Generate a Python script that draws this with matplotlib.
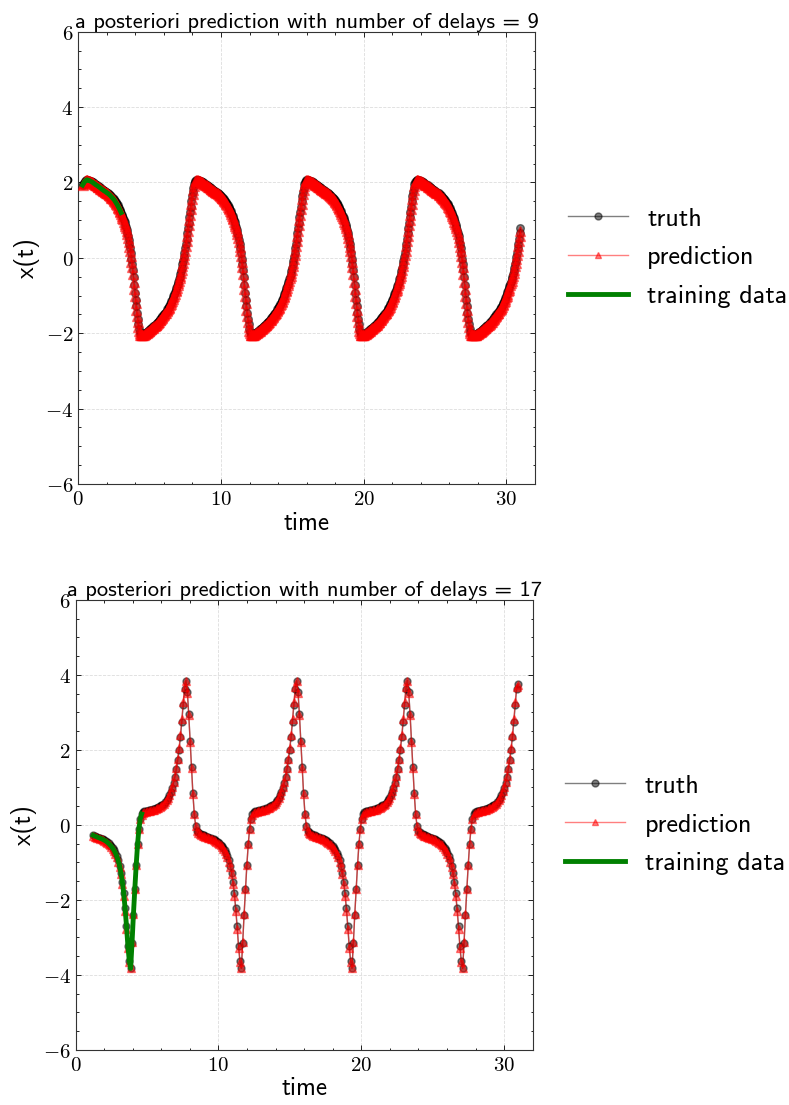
import numpy as np
import matplotlib
matplotlib.use("Agg")
import matplotlib.pyplot as plt
from matplotlib.ticker import FuncFormatter, MultipleLocator
from matplotlib.lines import Line2D

plt.rcParams['mathtext.fontset'] = 'cm'
SANS = 'cmss10'

# ---------------- data: top panel (number of delays = 9) ----------------
top_title = "a posteriori prediction with number of delays = 9"
top_t0, top_dt = 0.3005, 0.04825
top_truth = [
    1.93, 1.96, 1.99, 2.02, 2.04, 2.06,
    # cycle 1 (decline)
    2.07, 2.07, 2.06, 2.05, 2.05, 2.04, 2.03, 2.02, 2.01, 2.00,
    1.98, 1.97, 1.96, 1.94, 1.93, 1.92, 1.91, 1.89, 1.88, 1.87,
    1.85, 1.84, 1.82, 1.81, 1.80, 1.78, 1.77, 1.76, 1.75, 1.73,
    1.72, 1.71, 1.69, 1.68, 1.66, 1.64, 1.62, 1.60, 1.58, 1.56,
    1.54, 1.51, 1.48, 1.45, 1.42, 1.39, 1.35, 1.32, 1.28, 1.24,
    1.20, 1.15, 1.10, 1.05, 1.00, 0.94, 0.88, 0.82, 0.75, 0.67,
    0.58, 0.48, 0.37, 0.25, 0.12, -0.02, -0.16, -0.33, -0.52, -0.72,
    -0.92, -1.11, -1.29, -1.46, -1.62, -1.76, -1.88, -1.97, -2.02, -2.04,
    # rise
    -2.06, -2.05, -2.04, -2.03, -2.02, -2.00, -1.99, -1.98, -1.96, -1.95,
    -1.93, -1.92, -1.90, -1.89, -1.87, -1.86, -1.84, -1.82, -1.80, -1.79,
    -1.77, -1.75, -1.73, -1.71, -1.69, -1.67, -1.64, -1.62, -1.60, -1.58,
    -1.55, -1.53, -1.50, -1.48, -1.45, -1.43, -1.40, -1.37, -1.34, -1.31,
    -1.27, -1.23, -1.19, -1.15, -1.11, -1.06, -1.02, -0.97, -0.91, -0.86,
    -0.81, -0.75, -0.69, -0.63, -0.57, -0.50, -0.42, -0.34, -0.26, -0.17,
    -0.08, 0.03, 0.13, 0.25, 0.38, 0.51, 0.65, 0.79, 0.93, 1.08,
    1.22, 1.36, 1.50, 1.63, 1.75, 1.86, 1.95, 2.01, 2.05, 2.07,
    # cycle 2 (decline)
    2.07, 2.07, 2.06, 2.05, 2.05, 2.04, 2.03, 2.02, 2.01, 2.00,
    1.98, 1.97, 1.96, 1.94, 1.93, 1.92, 1.91, 1.89, 1.88, 1.87,
    1.85, 1.84, 1.82, 1.81, 1.80, 1.78, 1.77, 1.76, 1.75, 1.73,
    1.72, 1.71, 1.69, 1.68, 1.66, 1.64, 1.62, 1.60, 1.58, 1.56,
    1.54, 1.51, 1.48, 1.45, 1.42, 1.39, 1.35, 1.32, 1.28, 1.24,
    1.20, 1.15, 1.10, 1.05, 1.00, 0.94, 0.88, 0.82, 0.75, 0.67,
    0.58, 0.48, 0.37, 0.25, 0.12, -0.02, -0.16, -0.33, -0.52, -0.72,
    -0.92, -1.11, -1.29, -1.46, -1.62, -1.76, -1.88, -1.97, -2.02, -2.04,
    # rise
    -2.06, -2.05, -2.04, -2.03, -2.02, -2.00, -1.99, -1.98, -1.96, -1.95,
    -1.93, -1.92, -1.90, -1.89, -1.87, -1.86, -1.84, -1.82, -1.80, -1.79,
    -1.77, -1.75, -1.73, -1.71, -1.69, -1.67, -1.64, -1.62, -1.60, -1.58,
    -1.55, -1.53, -1.50, -1.48, -1.45, -1.43, -1.40, -1.37, -1.34, -1.31,
    -1.27, -1.23, -1.19, -1.15, -1.11, -1.06, -1.02, -0.97, -0.91, -0.86,
    -0.81, -0.75, -0.69, -0.63, -0.57, -0.50, -0.42, -0.34, -0.26, -0.17,
    -0.08, 0.03, 0.13, 0.25, 0.38, 0.51, 0.65, 0.79, 0.93, 1.08,
    1.22, 1.36, 1.50, 1.63, 1.75, 1.86, 1.95, 2.01, 2.05, 2.07,
    # cycle 3 (decline)
    2.07, 2.07, 2.06, 2.05, 2.05, 2.04, 2.03, 2.02, 2.01, 2.00,
    1.98, 1.97, 1.96, 1.94, 1.93, 1.92, 1.91, 1.89, 1.88, 1.87,
    1.85, 1.84, 1.82, 1.81, 1.80, 1.78, 1.77, 1.76, 1.75, 1.73,
    1.72, 1.71, 1.69, 1.68, 1.66, 1.64, 1.62, 1.60, 1.58, 1.56,
    1.54, 1.51, 1.48, 1.45, 1.42, 1.39, 1.35, 1.32, 1.28, 1.24,
    1.20, 1.15, 1.10, 1.05, 1.00, 0.94, 0.88, 0.82, 0.75, 0.67,
    0.58, 0.48, 0.37, 0.25, 0.12, -0.02, -0.16, -0.33, -0.52, -0.72,
    -0.92, -1.11, -1.29, -1.46, -1.62, -1.76, -1.88, -1.97, -2.02, -2.04,
    # rise
    -2.06, -2.05, -2.04, -2.03, -2.02, -2.00, -1.99, -1.98, -1.96, -1.95,
    -1.93, -1.92, -1.90, -1.89, -1.87, -1.86, -1.84, -1.82, -1.80, -1.79,
    -1.77, -1.75, -1.73, -1.71, -1.69, -1.67, -1.64, -1.62, -1.60, -1.58,
    -1.55, -1.53, -1.50, -1.48, -1.45, -1.43, -1.40, -1.37, -1.34, -1.31,
    -1.27, -1.23, -1.19, -1.15, -1.11, -1.06, -1.02, -0.97, -0.91, -0.86,
    -0.81, -0.75, -0.69, -0.63, -0.57, -0.50, -0.42, -0.34, -0.26, -0.17,
    -0.08, 0.03, 0.13, 0.25, 0.38, 0.51, 0.65, 0.79, 0.93, 1.08,
    1.22, 1.36, 1.50, 1.63, 1.75, 1.86, 1.95, 2.01, 2.05, 2.07,
    # cycle 4 (decline)
    2.07, 2.07, 2.06, 2.05, 2.05, 2.04, 2.03, 2.02, 2.01, 2.00,
    1.98, 1.97, 1.96, 1.94, 1.93, 1.92, 1.91, 1.89, 1.88, 1.87,
    1.85, 1.84, 1.82, 1.81, 1.80, 1.78, 1.77, 1.76, 1.75, 1.73,
    1.72, 1.71, 1.69, 1.68, 1.66, 1.64, 1.62, 1.60, 1.58, 1.56,
    1.54, 1.51, 1.48, 1.45, 1.42, 1.39, 1.35, 1.32, 1.28, 1.24,
    1.20, 1.15, 1.10, 1.05, 1.00, 0.94, 0.88, 0.82, 0.75, 0.67,
    0.58, 0.48, 0.37, 0.25, 0.12, -0.02, -0.16, -0.33, -0.52, -0.72,
    -0.92, -1.11, -1.29, -1.46, -1.62, -1.76, -1.88, -1.97, -2.02, -2.04,
    # final rise
    -2.05, -2.06, -2.06,
    -2.06, -2.05, -2.04, -2.03, -2.02, -2.00, -1.99, -1.98, -1.96, -1.95,
    -1.93, -1.92, -1.90, -1.89, -1.87, -1.86, -1.84, -1.82, -1.80, -1.79,
    -1.77, -1.75, -1.73, -1.71, -1.69, -1.67, -1.64, -1.62, -1.60, -1.58,
    -1.55, -1.53, -1.50, -1.48, -1.45, -1.43, -1.40, -1.37, -1.34, -1.31,
    -1.27, -1.23, -1.19, -1.15, -1.11, -1.06, -1.02, -0.97, -0.91, -0.86,
    -0.81, -0.75, -0.69, -0.63, -0.57, -0.50, -0.42, -0.34, -0.26, -0.17,
    -0.08, 0.03, 0.13, 0.25, 0.38, 0.51, 0.65, 0.79,
]
top_pred = [
    1.93, 1.96, 1.99, 2.02, 2.04, 2.06,
    # cycle 1 (decline)
    2.06, 2.06, 2.05, 2.04, 2.04, 2.03, 2.02, 2.01, 2.00, 1.98,
    1.97, 1.96, 1.94, 1.93, 1.92, 1.91, 1.89, 1.88, 1.87, 1.85,
    1.84, 1.82, 1.81, 1.80, 1.78, 1.77, 1.76, 1.75, 1.73, 1.72,
    1.71, 1.69, 1.68, 1.66, 1.64, 1.62, 1.60, 1.58, 1.56, 1.54,
    1.52, 1.49, 1.46, 1.43, 1.40, 1.36, 1.33, 1.29, 1.25, 1.21,
    1.17, 1.12, 1.07, 1.02, 0.96, 0.90, 0.84, 0.78, 0.70, 0.62,
    0.52, 0.42, 0.30, 0.18, 0.04, -0.10, -0.25, -0.43, -0.63, -0.83,
    -1.02, -1.21, -1.38, -1.55, -1.70, -1.83, -1.93, -2.00, -2.04, -2.06,
    # rise
    -2.06, -2.06, -2.05, -2.04, -2.03, -2.02, -2.00, -1.99, -1.98, -1.96,
    -1.95, -1.93, -1.92, -1.90, -1.89, -1.87, -1.86, -1.84, -1.82, -1.80,
    -1.79, -1.77, -1.75, -1.73, -1.71, -1.69, -1.66, -1.64, -1.62, -1.60,
    -1.57, -1.55, -1.52, -1.50, -1.47, -1.45, -1.42, -1.39, -1.36, -1.33,
    -1.30, -1.26, -1.22, -1.18, -1.14, -1.09, -1.05, -1.00, -0.95, -0.89,
    -0.84, -0.79, -0.73, -0.67, -0.61, -0.54, -0.47, -0.39, -0.31, -0.22,
    -0.13, -0.03, 0.08, 0.19, 0.31, 0.44, 0.58, 0.72, 0.86, 1.00,
    1.15, 1.29, 1.43, 1.56, 1.69, 1.80, 1.90, 1.98, 2.03, 2.06,
    # cycle 2 (decline)
    2.06, 2.06, 2.05, 2.04, 2.04, 2.03, 2.02, 2.01, 2.00, 1.98,
    1.97, 1.96, 1.94, 1.93, 1.92, 1.91, 1.89, 1.88, 1.87, 1.85,
    1.84, 1.82, 1.81, 1.80, 1.78, 1.77, 1.76, 1.75, 1.73, 1.72,
    1.71, 1.69, 1.68, 1.66, 1.64, 1.62, 1.60, 1.58, 1.56, 1.54,
    1.52, 1.49, 1.46, 1.43, 1.40, 1.36, 1.33, 1.29, 1.25, 1.21,
    1.17, 1.12, 1.07, 1.02, 0.96, 0.90, 0.84, 0.78, 0.70, 0.62,
    0.52, 0.42, 0.30, 0.18, 0.04, -0.10, -0.25, -0.43, -0.63, -0.83,
    -1.02, -1.21, -1.38, -1.55, -1.70, -1.83, -1.93, -2.00, -2.04, -2.06,
    # rise
    -2.06, -2.06, -2.05, -2.04, -2.03, -2.02, -2.00, -1.99, -1.98, -1.96,
    -1.95, -1.93, -1.92, -1.90, -1.89, -1.87, -1.86, -1.84, -1.82, -1.80,
    -1.79, -1.77, -1.75, -1.73, -1.71, -1.69, -1.66, -1.64, -1.62, -1.60,
    -1.57, -1.55, -1.52, -1.50, -1.47, -1.45, -1.42, -1.39, -1.36, -1.33,
    -1.30, -1.26, -1.22, -1.18, -1.14, -1.09, -1.05, -1.00, -0.95, -0.89,
    -0.84, -0.79, -0.73, -0.67, -0.61, -0.54, -0.47, -0.39, -0.31, -0.22,
    -0.13, -0.03, 0.08, 0.19, 0.31, 0.44, 0.58, 0.72, 0.86, 1.00,
    1.15, 1.29, 1.43, 1.56, 1.69, 1.80, 1.90, 1.98, 2.03, 2.06,
    # cycle 3 (decline)
    2.06, 2.06, 2.05, 2.04, 2.04, 2.03, 2.02, 2.01, 2.00, 1.98,
    1.97, 1.96, 1.94, 1.93, 1.92, 1.91, 1.89, 1.88, 1.87, 1.85,
    1.84, 1.82, 1.81, 1.80, 1.78, 1.77, 1.76, 1.75, 1.73, 1.72,
    1.71, 1.69, 1.68, 1.66, 1.64, 1.62, 1.60, 1.58, 1.56, 1.54,
    1.52, 1.49, 1.46, 1.43, 1.40, 1.36, 1.33, 1.29, 1.25, 1.21,
    1.17, 1.12, 1.07, 1.02, 0.96, 0.90, 0.84, 0.78, 0.70, 0.62,
    0.52, 0.42, 0.30, 0.18, 0.04, -0.10, -0.25, -0.43, -0.63, -0.83,
    -1.02, -1.21, -1.38, -1.55, -1.70, -1.83, -1.93, -2.00, -2.04, -2.06,
    # rise
    -2.06, -2.06, -2.05, -2.04, -2.03, -2.02, -2.00, -1.99, -1.98, -1.96,
    -1.95, -1.93, -1.92, -1.90, -1.89, -1.87, -1.86, -1.84, -1.82, -1.80,
    -1.79, -1.77, -1.75, -1.73, -1.71, -1.69, -1.66, -1.64, -1.62, -1.60,
    -1.57, -1.55, -1.52, -1.50, -1.47, -1.45, -1.42, -1.39, -1.36, -1.33,
    -1.30, -1.26, -1.22, -1.18, -1.14, -1.09, -1.05, -1.00, -0.95, -0.89,
    -0.84, -0.79, -0.73, -0.67, -0.61, -0.54, -0.47, -0.39, -0.31, -0.22,
    -0.13, -0.03, 0.08, 0.19, 0.31, 0.44, 0.58, 0.72, 0.86, 1.00,
    1.15, 1.29, 1.43, 1.56, 1.69, 1.80, 1.90, 1.98, 2.03, 2.06,
    # cycle 4 (decline)
    2.06, 2.06, 2.05, 2.04, 2.04, 2.03, 2.02, 2.01, 2.00, 1.98,
    1.97, 1.96, 1.94, 1.93, 1.92, 1.91, 1.89, 1.88, 1.87, 1.85,
    1.84, 1.82, 1.81, 1.80, 1.78, 1.77, 1.76, 1.75, 1.73, 1.72,
    1.71, 1.69, 1.68, 1.66, 1.64, 1.62, 1.60, 1.58, 1.56, 1.54,
    1.52, 1.49, 1.46, 1.43, 1.40, 1.36, 1.33, 1.29, 1.25, 1.21,
    1.17, 1.12, 1.07, 1.02, 0.96, 0.90, 0.84, 0.78, 0.70, 0.62,
    0.52, 0.42, 0.30, 0.18, 0.04, -0.10, -0.25, -0.43, -0.63, -0.83,
    -1.02, -1.21, -1.38, -1.55, -1.70, -1.83, -1.93, -2.00, -2.04, -2.06,
    # final rise
    -2.05, -2.06, -2.06,
    -2.06, -2.06, -2.05, -2.04, -2.03, -2.02, -2.00, -1.99, -1.98, -1.96,
    -1.95, -1.93, -1.92, -1.90, -1.89, -1.87, -1.86, -1.84, -1.82, -1.80,
    -1.79, -1.77, -1.75, -1.73, -1.71, -1.69, -1.66, -1.64, -1.62, -1.60,
    -1.57, -1.55, -1.52, -1.50, -1.47, -1.45, -1.42, -1.39, -1.36, -1.33,
    -1.30, -1.26, -1.22, -1.18, -1.14, -1.09, -1.05, -1.00, -0.95, -0.89,
    -0.84, -0.79, -0.73, -0.67, -0.61, -0.54, -0.47, -0.39, -0.31, -0.22,
    -0.13, -0.03, 0.08, 0.19, 0.31, 0.44, 0.58, 0.72,
]
top_train_len = 57   # training window = first samples of the truth

# ---------------- data: bottom panel (number of delays = 17) ----------------
bot_title = "a posteriori prediction with number of delays = 17"
bot_t0, bot_dt = 1.234, 0.096875
bot_truth = [
    -0.28, -0.30, -0.31, -0.33, -0.34, -0.36, -0.37, -0.39, -0.41, -0.43, -0.46, -0.49, -0.53, -0.57, -0.62, -0.68, -0.75, -0.84, -0.95, -1.09, -1.28, -1.52, -1.83, -2.23, -2.70, -3.22, -3.62,
    -3.83, -3.15, -2.40, -1.72, -1.08, -0.52, -0.10, 0.17, 0.29, 0.34, 0.36, 0.37, 0.38, 0.39, 0.40, 0.41, 0.42, 0.43, 0.45, 0.46, 0.48, 0.50, 0.52, 0.54, 0.57, 0.61, 0.66, 0.72, 0.79, 0.88, 0.99, 1.12, 1.28, 1.48, 1.72, 2.00, 2.34, 2.74, 3.20, 3.62,
    3.85, 3.55, 2.95, 2.25, 1.55, 0.85, 0.30, -0.02, -0.15, -0.20, -0.23, -0.25, -0.27, -0.28, -0.30, -0.31, -0.33, -0.34, -0.36, -0.37, -0.39, -0.41, -0.43, -0.46, -0.49, -0.53, -0.57, -0.62, -0.68, -0.75, -0.84, -0.95, -1.09, -1.28, -1.52, -1.83, -2.23, -2.70, -3.22, -3.62,
    -3.83, -3.15, -2.40, -1.72, -1.08, -0.52, -0.10, 0.17, 0.29, 0.34, 0.36, 0.37, 0.38, 0.39, 0.40, 0.41, 0.42, 0.43, 0.45, 0.46, 0.48, 0.50, 0.52, 0.54, 0.57, 0.61, 0.66, 0.72, 0.79, 0.88, 0.99, 1.12, 1.28, 1.48, 1.72, 2.00, 2.34, 2.74, 3.20, 3.62,
    3.85, 3.55, 2.95, 2.25, 1.55, 0.85, 0.30, -0.02, -0.15, -0.20, -0.23, -0.25, -0.27, -0.28, -0.30, -0.31, -0.33, -0.34, -0.36, -0.37, -0.39, -0.41, -0.43, -0.46, -0.49, -0.53, -0.57, -0.62, -0.68, -0.75, -0.84, -0.95, -1.09, -1.28, -1.52, -1.83, -2.23, -2.70, -3.22, -3.62,
    -3.83, -3.15, -2.40, -1.72, -1.08, -0.52, -0.10, 0.17, 0.29, 0.34, 0.36, 0.37, 0.38, 0.39, 0.40, 0.41, 0.42, 0.43, 0.45, 0.46, 0.48, 0.50, 0.52, 0.54, 0.57, 0.61, 0.66, 0.72, 0.79, 0.88, 0.99, 1.12, 1.28, 1.48, 1.72, 2.00, 2.34, 2.74, 3.20, 3.62,
    3.85, 3.55, 2.95, 2.25, 1.55, 0.85, 0.30, -0.02, -0.15, -0.20, -0.23, -0.25, -0.27, -0.28, -0.30, -0.31, -0.33, -0.34, -0.36, -0.37, -0.39, -0.41, -0.43, -0.46, -0.49, -0.53, -0.57, -0.62, -0.68, -0.75, -0.84, -0.95, -1.09, -1.28, -1.52, -1.83, -2.23, -2.70, -3.22, -3.62,
    -3.83, -3.15, -2.40, -1.72, -1.08, -0.52, -0.10, 0.17, 0.29, 0.34, 0.36, 0.37, 0.38, 0.39, 0.40, 0.41, 0.42, 0.43, 0.45, 0.46, 0.48, 0.50, 0.52, 0.54, 0.57, 0.61, 0.66, 0.72, 0.79, 0.88, 0.99, 1.12, 1.28, 1.48, 1.72, 2.00, 2.34, 2.74, 3.20, 3.62,
    3.75,
]
bot_pred = [
    -0.30, -0.32, -0.33, -0.35, -0.36, -0.38, -0.39, -0.41, -0.43, -0.45, -0.48, -0.51, -0.55, -0.59, -0.64, -0.70, -0.78, -0.87, -0.98, -1.13, -1.32, -1.57, -1.89, -2.30, -2.77, -3.28, -3.66,
    -3.82, -3.13, -2.38, -1.70, -1.07, -0.52, -0.11, 0.15, 0.27, 0.32, 0.34, 0.35, 0.36, 0.37, 0.38, 0.39, 0.40, 0.41, 0.43, 0.44, 0.46, 0.48, 0.51, 0.53, 0.57, 0.61, 0.67, 0.73, 0.81, 0.90, 1.01, 1.15, 1.31, 1.52, 1.77, 2.06, 2.41, 2.82, 3.28, 3.67,
    3.84, 3.52, 2.92, 2.22, 1.52, 0.82, 0.28, -0.04, -0.17, -0.22, -0.25, -0.27, -0.29, -0.30, -0.32, -0.33, -0.35, -0.36, -0.38, -0.39, -0.41, -0.43, -0.45, -0.48, -0.51, -0.55, -0.59, -0.64, -0.70, -0.78, -0.87, -0.98, -1.13, -1.32, -1.57, -1.89, -2.30, -2.77, -3.28, -3.66,
    -3.82, -3.13, -2.38, -1.70, -1.07, -0.52, -0.11, 0.15, 0.27, 0.32, 0.34, 0.35, 0.36, 0.37, 0.38, 0.39, 0.40, 0.41, 0.43, 0.44, 0.46, 0.48, 0.51, 0.53, 0.57, 0.61, 0.67, 0.73, 0.81, 0.90, 1.01, 1.15, 1.31, 1.52, 1.77, 2.06, 2.41, 2.82, 3.28, 3.67,
    3.84, 3.52, 2.92, 2.22, 1.52, 0.82, 0.28, -0.04, -0.17, -0.22, -0.25, -0.27, -0.29, -0.30, -0.32, -0.33, -0.35, -0.36, -0.38, -0.39, -0.41, -0.43, -0.45, -0.48, -0.51, -0.55, -0.59, -0.64, -0.70, -0.78, -0.87, -0.98, -1.13, -1.32, -1.57, -1.89, -2.30, -2.77, -3.28, -3.66,
    -3.82, -3.13, -2.38, -1.70, -1.07, -0.52, -0.11, 0.15, 0.27, 0.32, 0.34, 0.35, 0.36, 0.37, 0.38, 0.39, 0.40, 0.41, 0.43, 0.44, 0.46, 0.48, 0.51, 0.53, 0.57, 0.61, 0.67, 0.73, 0.81, 0.90, 1.01, 1.15, 1.31, 1.52, 1.77, 2.06, 2.41, 2.82, 3.28, 3.67,
    3.84, 3.52, 2.92, 2.22, 1.52, 0.82, 0.28, -0.04, -0.17, -0.22, -0.25, -0.27, -0.29, -0.30, -0.32, -0.33, -0.35, -0.36, -0.38, -0.39, -0.41, -0.43, -0.45, -0.48, -0.51, -0.55, -0.59, -0.64, -0.70, -0.78, -0.87, -0.98, -1.13, -1.32, -1.57, -1.89, -2.30, -2.77, -3.28, -3.66,
    -3.82, -3.13, -2.38, -1.70, -1.07, -0.52, -0.11, 0.15, 0.27, 0.32, 0.34, 0.35, 0.36, 0.37, 0.38, 0.39, 0.40, 0.41, 0.43, 0.44, 0.46, 0.48, 0.51, 0.53, 0.57, 0.61, 0.67, 0.73, 0.81, 0.90, 1.01, 1.15, 1.31, 1.52, 1.77, 2.06, 2.41, 2.82, 3.28, 3.67,
    3.74,
]
bot_train = [
    -0.28, -0.30, -0.31, -0.33, -0.34, -0.36, -0.37, -0.39, -0.41, -0.43, -0.46, -0.49, -0.53, -0.57, -0.62, -0.68, -0.75, -0.84, -0.95, -1.09, -1.28, -1.52, -1.83, -2.23, -2.70, -3.22, -3.62,
    -3.83, -3.15, -2.40, -1.72, -1.08, -0.52, -0.10, 0.17, 0.29,
]

x_ticks = [0, 10, 20, 30]
y_ticks = [-6, -4, -2, 0, 2, 4, 6]
legend_labels = ["truth", "prediction", "training data"]

# ---------------- figure ----------------
fig = plt.figure(figsize=(7.89, 11.05), dpi=100)
ax_top = fig.add_axes([0.0992, 0.5620, 0.5788, 0.4093])
ax_bot = fig.add_axes([0.0959, 0.0500, 0.5792, 0.4070])


def tfmt(v, p):
    return r'$%g$' % v


def panel(ax, title, t0, dt, truth, pred, train, ms_truth, ms_pred):
    truth = np.asarray(truth)
    pred = np.asarray(pred)
    train = np.asarray(train)
    tt = t0 + dt * np.arange(len(truth))
    tp = t0 + dt * np.arange(len(pred))
    tr = t0 + dt * np.arange(len(train))
    ax.plot(tt, truth, color='k', marker='o', ms=ms_truth, lw=1.0, alpha=0.5, zorder=3)
    ax.plot(tp, pred, color='r', marker='^', ms=ms_pred, lw=1.0, alpha=0.5, zorder=4)
    ax.plot(tr, train, color='g', lw=3.5, zorder=5)
    ax.set_xlim(0, 32)
    ax.set_ylim(-6, 6)
    ax.set_xticks(x_ticks)
    ax.set_yticks(y_ticks)
    ax.xaxis.set_minor_locator(MultipleLocator(2))
    ax.yaxis.set_minor_locator(MultipleLocator(0.5))
    ax.xaxis.set_major_formatter(FuncFormatter(tfmt))
    ax.yaxis.set_major_formatter(FuncFormatter(tfmt))
    ax.tick_params(which='both', direction='in', top=True, right=True, width=0.6, labelsize=15)
    ax.tick_params(which='major', length=3.5)
    ax.tick_params(which='minor', length=1.8)
    for s in ax.spines.values():
        s.set_linewidth(0.8)
        s.set_color('#333333')
    ax.grid(True, which='major', ls='--', lw=0.6, color='#dddddd', zorder=0)
    ax.set_axisbelow(True)
    ax.set_xlabel('time', family=SANS, fontsize=18, labelpad=2)
    ax.set_ylabel('x(t)', family=SANS, fontsize=18, labelpad=4)
    ax.set_title(title, family=SANS, fontsize=16.2, pad=3)
    handles = [
        Line2D([], [], color='k', marker='o', ms=5, lw=1.0, alpha=0.5),
        Line2D([], [], color='r', marker='^', ms=5, lw=1.0, alpha=0.5),
        Line2D([], [], color='g', lw=3.5),
    ]
    ax.legend(handles, legend_labels, loc='center left', bbox_to_anchor=(1.02, 0.5),
              frameon=False, numpoints=1, handlelength=2.3, labelspacing=0.6,
              handletextpad=0.75, prop={'family': SANS, 'size': 18.8})


panel(ax_top, top_title, top_t0, top_dt, top_truth, top_pred, top_truth[:top_train_len], 5.5, 7)
panel(ax_bot, bot_title, bot_t0, bot_dt, bot_truth, bot_pred, bot_train, 5, 5.5)

fig.savefig('out.png', dpi=100)
